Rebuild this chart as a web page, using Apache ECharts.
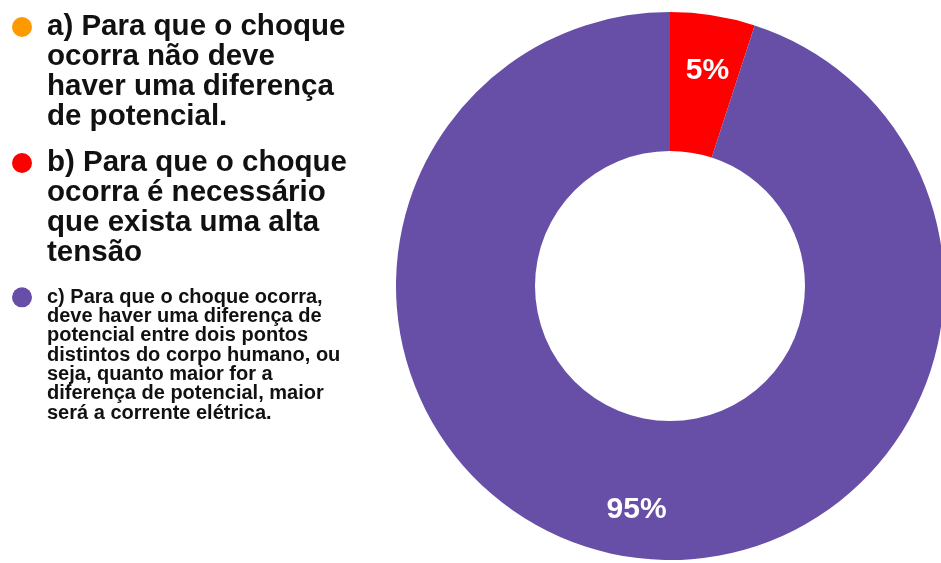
<!DOCTYPE html>
<html>
<head>
<meta charset="utf-8">
<script src="https://cdn.jsdelivr.net/npm/echarts@6/dist/echarts.min.js"></script>
<style>html,body{margin:0;padding:0;background:#fff;}#c{width:941px;height:563px;}</style>
</head>
<body>
<div id="c"></div>
<script>
// ---- data ----
const categories = ['a', 'b', 'c'];
const legendTexts = [
  'a) Para que o choque\nocorra não deve\nhaver uma diferença\nde potencial.',
  'b) Para que o choque\nocorra é necessário\nque exista uma alta\ntensão',
  'c) Para que o choque ocorra,\ndeve haver uma diferença de\npotencial entre dois pontos\ndistintos do corpo humano, ou\nseja, quanto maior for a\ndiferença de potencial, maior\nserá a corrente elétrica.'
];
const values = [0, 5, 95];

// ---- styles ----
const colors = ['#FF9900', '#FF0000', '#674EA7'];
const legendFont = [29.5, 29.5, 20];
const legendLH = [30, 30, 19.3];
const iconCenterY = [27, 163, 297];
const labelOffsets = [[0, 0], [5, -10], [-1, 19]];

const chart = echarts.init(document.getElementById('c'), null, {renderer: 'canvas'});

const legends = categories.map((cat, i) => {
  const n = legendTexts[i].split('\n').length;
  const L = legendLH[i];
  const box = (2 * n - 1) * L;
  // leading blank lines so that the first text line sits level with the icon
  const shown = '\n'.repeat(n - 1) + legendTexts[i];
  return {
    data: [cat],
    orient: 'vertical',
    left: 12,
    top: iconCenterY[i] - box / 2,
    padding: 0,
    itemWidth: 20,
    itemHeight: 20,
    icon: 'circle',
    selectedMode: false,
    formatter: () => shown,
    textStyle: {
      fontFamily: 'Liberation Sans, Arial, sans-serif',
      fontWeight: 'bold',
      fontSize: legendFont[i],
      lineHeight: L,
      color: '#111111',
      padding: [0, 0, 0, 10]
    }
  };
});

chart.setOption({
  backgroundColor: '#ffffff',
  animation: false,
  legend: legends,
  series: [{
    type: 'pie',
    center: [670, 286],
    radius: [135, 274],
    startAngle: 90,
    clockwise: true,
    avoidLabelOverlap: false,
    itemStyle: {borderWidth: 0},
    label: {
      show: true,
      position: 'inside',
      color: '#ffffff',
      fontFamily: 'Liberation Sans, Arial, sans-serif',
      fontWeight: 'bold',
      fontSize: 30,
      formatter: p => p.value === 0 ? '' : Math.round(p.percent) + '%'
    },
    labelLine: {show: false},
    emphasis: {disabled: true},
    data: categories.map((cat, i) => ({
      name: cat,
      value: values[i],
      itemStyle: {color: colors[i]},
      label: {offset: labelOffsets[i]}
    }))
  }]
});
</script>
</body>
</html>
